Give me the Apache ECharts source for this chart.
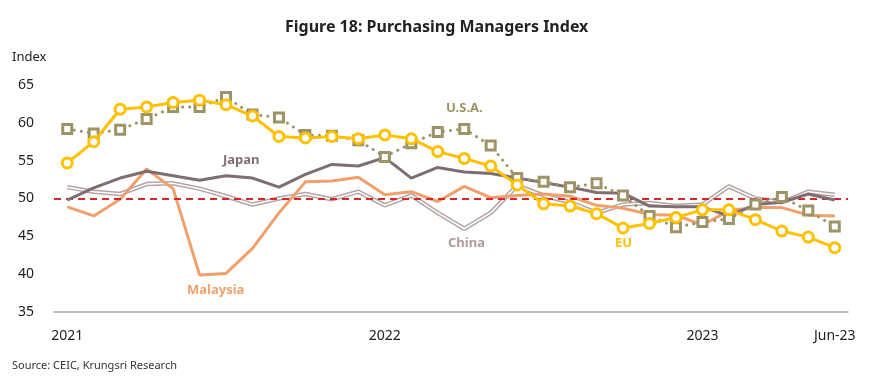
<!DOCTYPE html>
<html>
<head>
<meta charset="utf-8">
<script src="https://cdn.jsdelivr.net/npm/echarts@6/dist/echarts.min.js"></script>
<style>html,body{margin:0;padding:0;background:#fff;}#c{width:870px;height:384px;}</style>
</head>
<body>
<div id="c"></div>
<script>
const months = ['Jan-21','Feb-21','Mar-21','Apr-21','May-21','Jun-21','Jul-21','Aug-21','Sep-21','Oct-21','Nov-21','Dec-21',
  'Jan-22','Feb-22','Mar-22','Apr-22','May-22','Jun-22','Jul-22','Aug-22','Sep-22','Oct-22','Nov-22','Dec-22',
  'Jan-23','Feb-23','Mar-23','Apr-23','May-23','Jun-23'];
const tickMonths = ['Jan-21','Jan-22','Jan-23','Jun-23'];
const tickLabels = ['2021','2022','2023','Jun-23'];
const usa = [59.2,58.6,59.1,60.5,62.1,62.1,63.4,61.1,60.7,58.4,58.3,57.7,55.5,57.3,58.8,59.2,57.0,52.7,52.2,51.5,52.0,50.4,47.7,46.2,46.9,47.3,49.2,50.2,48.4,46.3];
const eu = [54.7,57.5,61.8,62.1,62.7,63.0,62.4,60.9,58.2,58.0,58.2,57.9,58.4,57.9,56.2,55.3,54.3,51.8,49.3,49.0,48.0,46.1,46.7,47.5,48.5,48.5,47.2,45.7,44.9,43.5];
const japan = [49.8,51.4,52.7,53.6,53.0,52.4,53.0,52.7,51.5,53.2,54.5,54.3,55.4,52.7,54.1,53.5,53.3,52.7,52.1,51.5,50.8,50.7,49.0,48.9,48.9,47.7,49.2,49.5,50.6,49.8];
const china = [51.5,50.9,50.6,51.9,52.0,51.3,50.3,49.2,50.0,50.6,49.9,50.9,49.1,50.4,48.1,46.0,48.1,51.7,50.4,49.5,48.1,49.2,49.4,49.0,49.2,51.6,50.0,49.5,50.9,50.5];
const malaysia = [48.9,47.7,49.9,53.9,51.3,39.9,40.1,43.4,48.1,52.2,52.3,52.8,50.5,50.9,49.6,51.6,50.1,50.4,50.6,50.3,49.1,48.7,47.9,47.8,46.5,48.4,48.8,48.8,47.8,47.7];
const threshold = 50;

const FONT = 'Noto Sans';
const chart = echarts.init(document.getElementById('c'), null, {renderer:'canvas'});
chart.setOption({
  animation: false,
  backgroundColor: '#ffffff',
  textStyle: {fontFamily: FONT},
  title: {
    text: 'Figure 18: Purchasing Managers Index',
    left: 280, top: 14,
    textStyle: {fontFamily: FONT, fontSize: 16, fontWeight: 'bold', color: '#222'}
  },
  grid: {left: 54, right: 22, top: 85, bottom: 72, containLabel: false},
  xAxis: {
    type: 'category', data: months, boundaryGap: true,
    axisLine: {show: true, lineStyle: {color: '#A6A6A6', width: 1.5}},
    axisTick: {show: false},
    axisLabel: {
      interval: (i, v) => tickMonths.includes(v),
      formatter: v => { const k = tickMonths.indexOf(v); return k >= 0 ? tickLabels[k] : ''; },
      fontFamily: FONT, fontSize: 14, color: '#222', margin: 17
    },
    splitLine: {show: false}
  },
  yAxis: {
    type: 'value', min: 35, max: 65, interval: 5,
    axisLine: {show: false}, axisTick: {show: false}, splitLine: {show: false},
    axisLabel: {fontFamily: FONT, fontSize: 14, color: '#222', margin: 20}
  },
  graphic: [
    {type: 'text', left: 12, top: 51, style: {text: 'Index', font: '13px "Noto Sans"', fill: '#222'}},
    {type: 'text', left: 12, top: 360, style: {text: 'Source: CEIC, Krungsri Research', font: '11px "Noto Sans"', fill: '#333'}},
    {type: 'text', left: 223, top: 154, style: {text: 'Japan', font: 'bold 13px "Noto Sans"', fill: '#7F6E70'}},
    {type: 'text', left: 446, top: 102, style: {text: 'U.S.A.', font: 'bold 13px "Noto Sans"', fill: '#9C9466'}},
    {type: 'text', left: 448, top: 237, style: {text: 'China', font: 'bold 13px "Noto Sans"', fill: '#AE9C9C'}},
    {type: 'text', left: 615, top: 237, style: {text: 'EU', font: 'bold 13px "Noto Sans"', fill: '#FFC000'}},
    {type: 'text', left: 187, top: 284, style: {text: 'Malaysia', font: 'bold 13px "Noto Sans"', fill: '#F0A06C'}}
  ],
  series: [
    {name: 'China', type: 'line', data: china, symbol: 'none', z: 2,
      lineStyle: {color: '#B4A4A4', width: 4.5},
      markLine: {silent: true, symbol: 'none', label: {show: false},
        lineStyle: {color: '#D9262B', type: [7, 5], width: 2},
        data: [{yAxis: threshold}]}},
    {name: 'ChinaInner', type: 'line', data: china, symbol: 'none', z: 3,
      lineStyle: {color: '#ffffff', width: 1.5}},
    {name: 'Malaysia', type: 'line', data: malaysia, symbol: 'none', z: 4,
      lineStyle: {color: '#F0A06C', width: 3}},
    {name: 'Japan', type: 'line', data: japan, symbol: 'none', z: 5,
      lineStyle: {color: '#7F6E70', width: 3}},
    {name: 'USA', type: 'line', data: usa, symbol: 'rect', symbolSize: 9, z: 6,
      lineStyle: {color: '#9C9466', width: 3, type: [0.1, 7], cap: 'round'},
      itemStyle: {color: '#ffffff', borderColor: '#9C9466', borderWidth: 3}},
    {name: 'EU', type: 'line', data: eu, symbol: 'circle', symbolSize: 10, z: 7,
      lineStyle: {color: '#FFC000', width: 3},
      itemStyle: {color: '#ffffff', borderColor: '#FFC000', borderWidth: 3}}
  ]
});
</script>
</body>
</html>
